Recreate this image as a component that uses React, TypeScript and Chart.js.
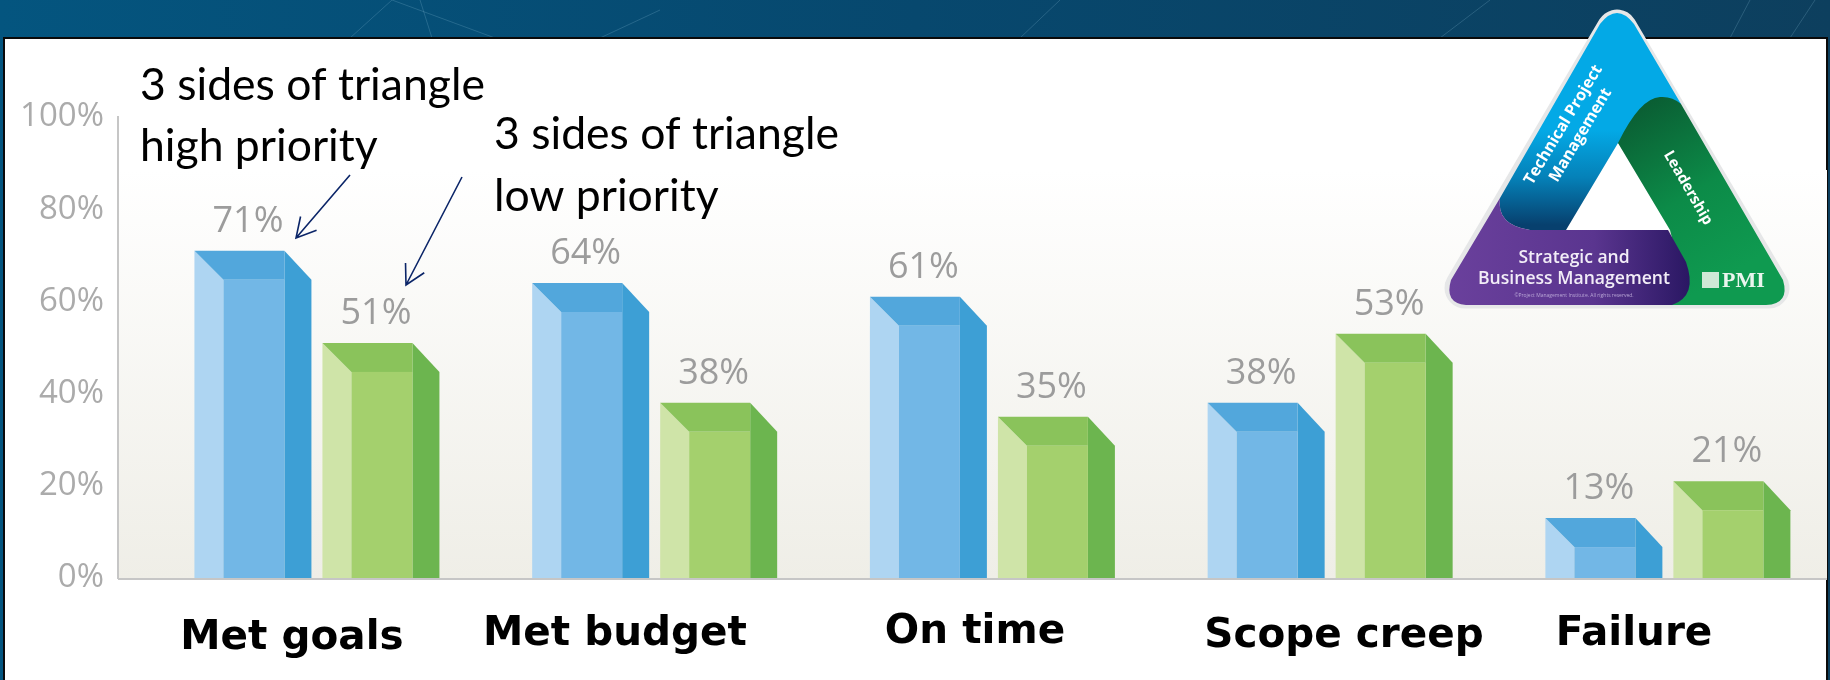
import { useEffect, useRef } from "react";
import { Chart, registerables } from "chart.js";

Chart.register(...registerables);

const categories = ["Met goals", "Met budget", "On time", "Scope creep", "Failure"];
const highPriority = [71, 64, 61, 38, 13];
const lowPriority = [51, 38, 35, 53, 21];
const seriesValues = [highPriority, lowPriority];
const yTicks = [0, 20, 40, 60, 80, 100];

const WIDTH = 1830;
const HEIGHT = 680;
const FACE_INSET = 29;

const bluePalette = { front: "#72B7E6", left: "#AED5F2", right: "#3D9FD5", top: "#52A7DC" };
const greenPalette = { front: "#A4D06D", left: "#CFE4A8", right: "#6CB54F", top: "#8AC35B" };
const palettes = [bluePalette, greenPalette];

// Hand-placed category captions: centre x, centre y, white plate
const captionSpots = [
  { x: 292, y: 638, pw: 226, ph: 78 },
  { x: 615, y: 634, pw: 270, ph: 78 },
  { x: 975, y: 632, pw: 210, ph: 78 },
  { x: 1344, y: 636, pw: 310, ph: 78 },
  { x: 1634, y: 634, pw: 210, ph: 78 },
];

function poly(ctx: CanvasRenderingContext2D, pts: number[][], fill: string | CanvasGradient) {
  ctx.beginPath();
  pts.forEach(([x, y], i) => (i ? ctx.lineTo(x, y) : ctx.moveTo(x, y)));
  ctx.closePath();
  ctx.fillStyle = fill;
  ctx.fill();
}

const backdrop = {
  id: "backdrop",
  beforeDraw(chart: Chart) {
    const ctx = chart.ctx;
    const head = ctx.createLinearGradient(0, 0, WIDTH, 0);
    head.addColorStop(0, "#04557F");
    head.addColorStop(0.5, "#07486E");
    head.addColorStop(1, "#0D3F5E");
    ctx.fillStyle = head;
    ctx.fillRect(0, 0, WIDTH, HEIGHT);

    // Faint star lines across the header strip
    ctx.strokeStyle = "rgba(150,200,225,0.22)";
    ctx.lineWidth = 1;
    [
      [350, 38, 392, 0],
      [392, 0, 495, 38],
      [420, 0, 432, 38],
      [600, 38, 660, 10],
      [1020, 38, 1060, 0],
      [1440, 38, 1490, 0],
      [1730, 38, 1750, 0],
      [1790, 38, 1815, 0],
    ].forEach(([a, b, c, d]) => {
      ctx.beginPath();
      ctx.moveTo(a, b);
      ctx.lineTo(c, d);
      ctx.stroke();
    });

    // White slide panel with a black outline
    ctx.fillStyle = "#FFFFFF";
    ctx.fillRect(4, 38, WIDTH - 7, HEIGHT - 38);
    ctx.strokeStyle = "#0A0A0A";
    ctx.lineWidth = 2;
    ctx.beginPath();
    ctx.moveTo(4, HEIGHT);
    ctx.lineTo(4, 38);
    ctx.lineTo(WIDTH - 3, 38);
    ctx.lineTo(WIDTH - 3, HEIGHT);
    ctx.stroke();

    // Plot wash fading from white to warm grey
    const { left, bottom } = chart.chartArea;
    const wash = ctx.createLinearGradient(0, 170, 0, bottom);
    wash.addColorStop(0, "#FFFFFF");
    wash.addColorStop(1, "#EFEEE7");
    ctx.fillStyle = wash;
    ctx.fillRect(left, 170, WIDTH - 3 - left, bottom - 170);
  },
};

const solidBars = {
  id: "solidBars",
  afterDatasetsDraw(chart: Chart) {
    const ctx = chart.ctx;
    seriesValues.forEach((values, di) => {
      const colors = palettes[di];
      chart.getDatasetMeta(di).data.forEach((el: any, i: number) => {
        const l = el.x - el.width / 2;
        const r = el.x + el.width / 2;
        const t = el.y;
        const b = el.base;
        const fl = l + FACE_INSET;
        const fr = r - FACE_INSET + 2;
        const ft = t + FACE_INSET;
        poly(ctx, [[l, t], [fl, ft], [fl, b], [l, b]], colors.left);
        poly(ctx, [[fr, t], [r, ft], [r, b], [fr, b]], colors.right);
        poly(ctx, [[l, t], [fr, t], [fr, ft], [fl, ft]], colors.top);
        ctx.fillStyle = colors.front;
        ctx.fillRect(fl, ft, fr - fl, b - ft);

        ctx.font = '36px "Open Sans"';
        ctx.fillStyle = "#9C9C9C";
        ctx.textAlign = "center";
        ctx.textBaseline = "alphabetic";
        ctx.fillText(`${values[i]}%`, el.x - 5, t - 19);
      });
    });
  },
};

function arrow(ctx: CanvasRenderingContext2D, x0: number, y0: number, x1: number, y1: number) {
  const ang = Math.atan2(y1 - y0, x1 - x0);
  ctx.strokeStyle = "#0B2568";
  ctx.lineWidth = 1.6;
  ctx.beginPath();
  ctx.moveTo(x0, y0);
  ctx.lineTo(x1, y1);
  ctx.moveTo(x1 - 22 * Math.cos(ang - 0.5), y1 - 22 * Math.sin(ang - 0.5));
  ctx.lineTo(x1, y1);
  ctx.lineTo(x1 - 22 * Math.cos(ang + 0.5), y1 - 22 * Math.sin(ang + 0.5));
  ctx.stroke();
}

function rotatedText(ctx: CanvasRenderingContext2D, lines: string[], x: number, y: number, deg: number, lh: number) {
  ctx.save();
  ctx.translate(x, y);
  ctx.rotate((deg * Math.PI) / 180);
  ctx.textAlign = "center";
  ctx.textBaseline = "middle";
  lines.forEach((s, i) => ctx.fillText(s, 0, (i - (lines.length - 1) / 2) * lh));
  ctx.restore();
}

function drawTriangleBadge(ctx: CanvasRenderingContext2D) {
  // Badge outline drawn with wide round joins
  ctx.save();
  ctx.beginPath();
  ctx.moveTo(1617, 30);
  ctx.lineTo(1769, 288);
  ctx.lineTo(1465, 288);
  ctx.closePath();
  ctx.lineJoin = "round";
  ctx.lineWidth = 41;
  ctx.strokeStyle = "#E6E7E8";
  ctx.stroke();
  ctx.fillStyle = "#E6E7E8";
  ctx.fill();
  ctx.restore();

  // Inner white opening
  poly(ctx, [[1618, 143], [1670, 230], [1566, 230]], "#FFFFFF");

  // Blue side
  const blue = ctx.createLinearGradient(0, 130, 0, 225);
  blue.addColorStop(0, "#03A9E6");
  blue.addColorStop(0.5, "#0581B8");
  blue.addColorStop(1, "#07406E");
  ctx.beginPath();
  ctx.moveTo(1600, 24);
  ctx.quadraticCurveTo(1617, 2, 1634, 24);
  ctx.lineTo(1681, 104);
  ctx.lineTo(1640, 160);
  ctx.lineTo(1618, 143);
  ctx.lineTo(1566, 230);
  ctx.lineTo(1530, 230);
  ctx.quadraticCurveTo(1496, 225, 1500, 198);
  ctx.closePath();
  ctx.fillStyle = blue;
  ctx.fill();

  // Green side
  const green = ctx.createLinearGradient(1620, 110, 1720, 280);
  green.addColorStop(0, "#0A5B32");
  green.addColorStop(0.55, "#0C8B48");
  green.addColorStop(1, "#0F9A50");
  ctx.beginPath();
  ctx.moveTo(1618, 143);
  ctx.quadraticCurveTo(1640, 98, 1660, 97);
  ctx.quadraticCurveTo(1672, 96, 1681, 104);
  ctx.lineTo(1783, 280);
  ctx.quadraticCurveTo(1790, 304, 1766, 305);
  ctx.lineTo(1660, 305);
  ctx.lineTo(1680, 270);
  ctx.lineTo(1670, 230);
  ctx.closePath();
  ctx.fillStyle = green;
  ctx.fill();

  // Purple side
  const purple = ctx.createLinearGradient(1450, 0, 1690, 0);
  purple.addColorStop(0, "#6A409C");
  purple.addColorStop(0.6, "#5A358F");
  purple.addColorStop(1, "#2A1763");
  ctx.beginPath();
  ctx.moveTo(1500, 198);
  ctx.quadraticCurveTo(1496, 225, 1530, 230);
  ctx.lineTo(1668, 230);
  ctx.lineTo(1686, 262);
  ctx.quadraticCurveTo(1698, 296, 1672, 305);
  ctx.lineTo(1466, 305);
  ctx.quadraticCurveTo(1444, 303, 1451, 280);
  ctx.closePath();
  ctx.fillStyle = purple;
  ctx.fill();

  ctx.fillStyle = "#FFFFFF";
  ctx.font = 'bold 16px "Open Sans"';
  rotatedText(ctx, ["Technical Project", "Management"], 1572, 130, -59, 20);
  ctx.font = 'bold 15px "Open Sans"';
  rotatedText(ctx, ["Leadership"], 1688, 188, 60, 18);

  ctx.fillStyle = "#F2EDF7";
  ctx.font = '600 17.5px "Open Sans"';
  ctx.textAlign = "center";
  ctx.textBaseline = "alphabetic";
  ctx.fillText("Strategic and", 1574, 263);
  ctx.font = '600 17.6px "Open Sans"';
  ctx.fillText("Business Management", 1574, 284);
  ctx.font = '5px "Open Sans"';
  ctx.fillStyle = "#B9A6D6";
  ctx.fillText("©Project Management Institute. All rights reserved.", 1574, 297);

  ctx.fillStyle = "#EAF5EE";
  ctx.font = 'bold 22px "Liberation Serif"';
  ctx.textAlign = "left";
  ctx.fillText("PMI", 1722, 287);
  ctx.fillStyle = "#CFE8D6";
  ctx.fillRect(1702, 272, 17, 16);
}

const annotations = {
  id: "annotations",
  afterDraw(chart: Chart) {
    const ctx = chart.ctx;

    // Category captions on their own white plates
    categories.forEach((name, i) => {
      const s = captionSpots[i];
      ctx.fillStyle = "#FFFFFF";
      ctx.fillRect(s.x - s.pw / 2, s.y - s.ph / 2, s.pw, s.ph);
      ctx.fillStyle = "#000000";
      ctx.font = 'bold 40.5px "DejaVu Sans"';
      ctx.textAlign = "center";
      ctx.textBaseline = "middle";
      ctx.fillText(name, s.x, s.y);
    });

    ctx.fillStyle = "#000000";
    ctx.textAlign = "left";
    ctx.textBaseline = "middle";
    ctx.font = '44.5px "Lato"';
    ctx.fillText("3 sides of triangle", 140, 86);
    ctx.fillText("high priority", 140, 147);
    ctx.fillText("3 sides of triangle", 494, 135);
    ctx.fillText("low priority", 494, 197);

    arrow(ctx, 350, 175, 296, 238);
    arrow(ctx, 462, 177, 406, 285);

    drawTriangleBadge(ctx);
  },
};

export default function App() {
  const ref = useRef<HTMLCanvasElement>(null);

  useEffect(() => {
    if (!ref.current) return;
    const chart = new Chart(ref.current, {
      type: "bar",
      data: {
        datasets: [
          {
            label: "3 sides of triangle high priority",
            data: highPriority.map((y, x) => ({ x, y })) as any,
            backgroundColor: "transparent",
          },
          {
            label: "3 sides of triangle low priority",
            data: lowPriority.map((y, x) => ({ x, y })) as any,
            backgroundColor: "transparent",
          },
        ],
      },
      options: {
        responsive: false,
        animation: false,
        categoryPercentage: 0.758,
        barPercentage: 0.914,
        layout: { padding: { left: 0, right: 0, top: 117, bottom: 102 } },
        plugins: { legend: { display: false }, tooltip: { enabled: false } },
        scales: {
          x: {
            type: "linear",
            offset: false,
            display: false,
            min: -0.589,
            max: 4.48,
            afterBuildTicks(scale: any) {
              scale.ticks = categories.map((_, value) => ({ value }));
            },
          },
          y: {
            min: 0,
            max: 100,
            afterBuildTicks(scale: any) {
              scale.ticks = yTicks.map((value) => ({ value }));
            },
            afterFit(scale: any) {
              scale.width = 118;
            },
            grid: { display: false },
            border: { color: "#C6C6C6", width: 2 },
            ticks: {
              padding: 6,
              color: "#ABABAB",
              font: { family: "Open Sans", size: 33 },
              callback: (v: any) => `${v}%`,
            },
          },
        },
      } as any,
      plugins: [
        backdrop,
        solidBars,
        annotations,
        {
          id: "baseline",
          afterDraw(c: Chart) {
            const { left, bottom } = c.chartArea;
            c.ctx.fillStyle = "#C6C6C6";
            c.ctx.fillRect(left, bottom, WIDTH - 3 - left, 2);
          },
        },
      ],
    });
    return () => chart.destroy();
  }, []);

  return (
    <div style={{ position: "fixed", left: 0, top: 0, width: WIDTH, height: HEIGHT, overflow: "hidden" }}>
      <canvas ref={ref} width={WIDTH} height={HEIGHT} style={{ display: "block" }} />
    </div>
  );
}
